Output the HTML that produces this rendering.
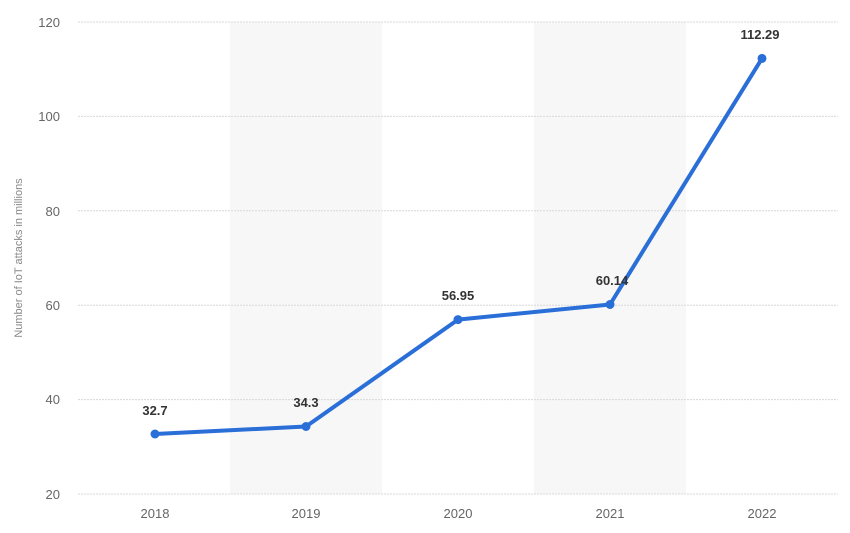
<!DOCTYPE html>
<html><head><meta charset="utf-8"><style>
html,body{margin:0;padding:0;background:#fff;width:850px;height:533px;overflow:hidden}
text{font-family:"Liberation Sans",sans-serif}
</style></head><body>
<svg width="850" height="533" viewBox="0 0 850 533" xmlns="http://www.w3.org/2000/svg">
<rect x="230" y="22" width="152" height="472" fill="#f7f7f7"/>
<rect x="534" y="22" width="152" height="472" fill="#f7f7f7"/>
<g stroke="#d8d8d8" stroke-width="1" stroke-dasharray="2,1">
<line x1="78" y1="22" x2="838" y2="22"/>
<line x1="78" y1="116.4" x2="838" y2="116.4"/>
<line x1="78" y1="210.8" x2="838" y2="210.8"/>
<line x1="78" y1="305.2" x2="838" y2="305.2"/>
<line x1="78" y1="399.6" x2="838" y2="399.6"/>
<line x1="78" y1="494" x2="838" y2="494"/>
</g>
<g fill="#666" font-size="13" text-anchor="end">
<text x="60" y="27">120</text>
<text x="60" y="121">100</text>
<text x="60" y="216">80</text>
<text x="60" y="310">60</text>
<text x="60" y="404">40</text>
<text x="60" y="499">20</text>
</g>
<g fill="#666" font-size="13" text-anchor="middle">
<text x="155" y="518">2018</text>
<text x="306" y="518">2019</text>
<text x="458" y="518">2020</text>
<text x="610" y="518">2021</text>
<text x="762" y="518">2022</text>
</g>
<text transform="translate(22,258) rotate(-90)" fill="#888" font-size="11" text-anchor="middle">Number of IoT attacks in millions</text>
<polyline points="155,434 306,426.5 458,319.6 610,304.5 762,58.4" fill="none" stroke="#2a6ed8" stroke-width="4" stroke-linejoin="round"/>
<g fill="#2a6ed8">
<circle cx="155" cy="434" r="4.5"/><circle cx="306" cy="426.5" r="4.5"/><circle cx="458" cy="319.6" r="4.5"/><circle cx="610" cy="304.5" r="4.5"/><circle cx="762" cy="58.4" r="4.5"/>
</g>
<g fill="#333" font-size="13" font-weight="bold" text-anchor="middle">
<text x="155" y="415">32.7</text>
<text x="306" y="407">34.3</text>
<text x="458" y="300">56.95</text>
<text x="612" y="285">60.14</text>
<text x="760" y="39">112.29</text>
</g>
</svg>
</body></html>
